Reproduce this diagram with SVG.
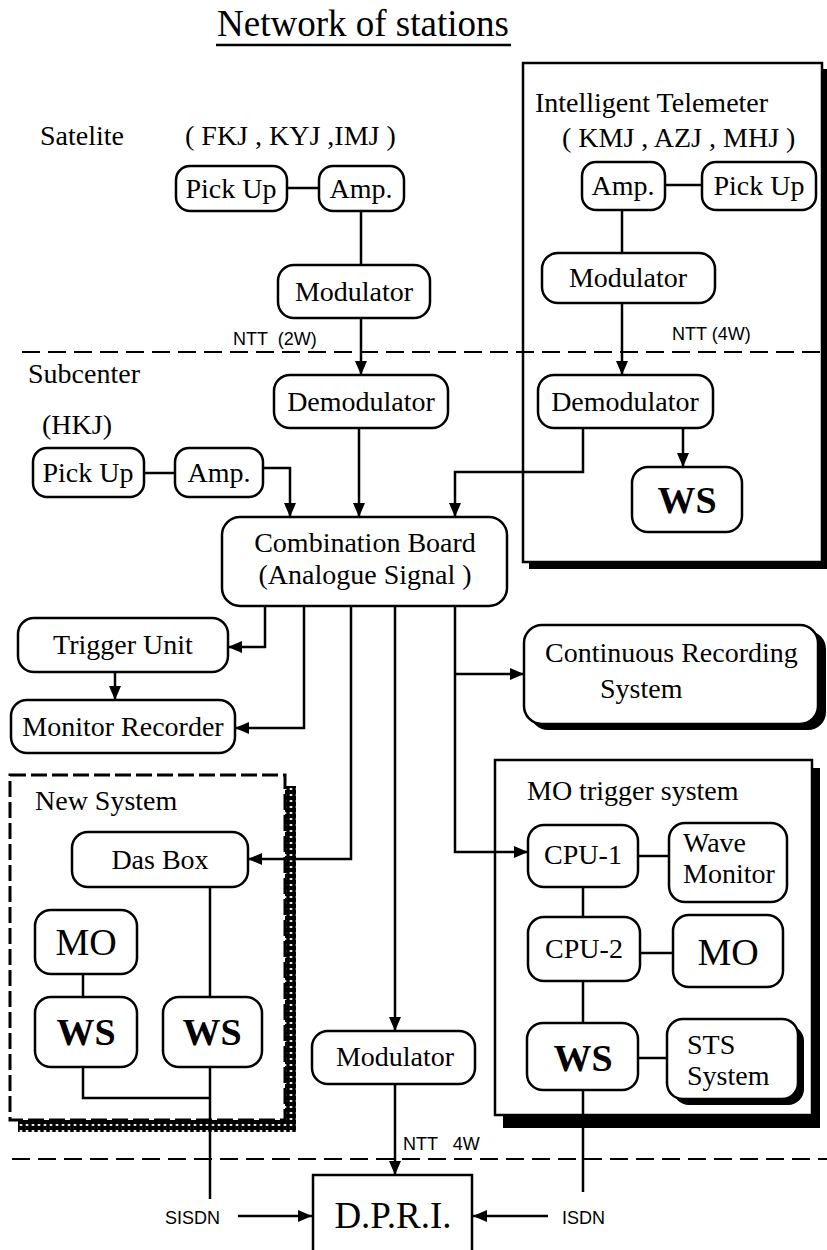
<svg xmlns="http://www.w3.org/2000/svg" width="827" height="1250" viewBox="0 0 827 1250">
<style>
.n{fill:#fff;stroke:#000;stroke-width:2.5}
.t{font-family:"Liberation Serif","Times New Roman",serif;font-size:28px;fill:#000;text-anchor:middle}
.l{font-family:"Liberation Serif","Times New Roman",serif;font-size:28px;fill:#000}
.b{font-family:"Liberation Serif","Times New Roman",serif;font-size:38px;fill:#000;text-anchor:middle}
.s{font-family:"Liberation Sans",Arial,sans-serif;font-size:18px;fill:#000}
.c{fill:none;stroke:#000;stroke-width:2.5}
.a{fill:none;stroke:#000;stroke-width:2.5;marker-end:url(#ah)}
.d{fill:none;stroke:#000;stroke-width:2;stroke-dasharray:18 8}
</style>
<defs>
<marker id="ah" markerWidth="14" markerHeight="12" refX="14" refY="6" orient="auto" markerUnits="userSpaceOnUse"><path d="M0,0 L14,6 L0,12 z" fill="#000"/></marker>
<pattern id="chain" width="6" height="6" patternUnits="userSpaceOnUse"><rect width="6" height="6" fill="#000"/><ellipse cx="3" cy="3" rx="1.6" ry="1.1" fill="#fff"/></pattern>
</defs>

<g id="title">
<text x="363" y="36" font-family="Liberation Serif, Times New Roman, serif" font-size="37" text-anchor="middle">Network of stations</text>
<line x1="216" y1="45" x2="511" y2="45" stroke="#000" stroke-width="2.5"/>
</g>

<g id="intelligent-telemeter">
<rect x="529" y="69" width="299" height="500" fill="#000"/>
<rect class="n" x="523" y="63" width="299" height="499"/>
<text class="l" x="535" y="112">Intelligent Telemeter</text>
<text class="l" x="562" y="147">( KMJ , AZJ , MHJ )</text>
</g>

<g id="zone-lines">
<line class="d" x1="22" y1="352" x2="827" y2="352"/>
<line class="d" x1="12" y1="1159" x2="827" y2="1159"/>
</g>

<g id="labels">
<text class="l" x="40" y="145">Satelite</text>
<text class="l" x="185" y="145">( FKJ , KYJ ,IMJ )</text>
<text class="l" x="28" y="383">Subcenter</text>
<text class="l" x="42" y="434">(HKJ)</text>
<text class="s" x="233" y="345" xml:space="preserve">NTT  (2W)</text>
<text class="s" x="672" y="340">NTT (4W)</text>
<text class="s" x="403" y="1150" xml:space="preserve">NTT   4W</text>
<text class="s" x="165" y="1224">SISDN</text>
<text class="s" x="562" y="1224">ISDN</text>
</g>

<g id="sat-pickup"><rect class="n" x="176" y="166" width="111" height="45" rx="14"/><text class="t" x="231" y="198">Pick Up</text></g>
<g id="sat-amp"><rect class="n" x="319" y="166" width="85" height="45" rx="14"/><text class="t" x="361" y="198">Amp.</text></g>
<g id="sat-modulator"><rect class="n" x="278" y="265" width="152" height="53" rx="16"/><text class="t" x="354" y="301">Modulator</text></g>
<g id="sub-demodulator"><rect class="n" x="274" y="375" width="174" height="53" rx="16"/><text class="t" x="361" y="411">Demodulator</text></g>
<g id="hkj-pickup"><rect class="n" x="33" y="448" width="111" height="49" rx="14"/><text class="t" x="88" y="482">Pick Up</text></g>
<g id="hkj-amp"><rect class="n" x="175" y="448" width="88" height="49" rx="14"/><text class="t" x="219" y="482">Amp.</text></g>
<g id="combination-board"><rect class="n" x="222" y="517" width="285" height="89" rx="18"/><text class="t" x="365" y="552">Combination Board</text><text class="t" x="365" y="584">(Analogue Signal )</text></g>

<g id="tel-amp"><rect class="n" x="582" y="162" width="83" height="48" rx="14"/><text class="t" x="623" y="195">Amp.</text></g>
<g id="tel-pickup"><rect class="n" x="702" y="162" width="114" height="48" rx="14"/><text class="t" x="759" y="195">Pick Up</text></g>
<g id="tel-modulator"><rect class="n" x="542" y="253" width="173" height="50" rx="16"/><text class="t" x="628" y="287">Modulator</text></g>
<g id="tel-demodulator"><rect class="n" x="538" y="375" width="175" height="53" rx="16"/><text class="t" x="625" y="411">Demodulator</text></g>
<g id="tel-ws"><rect class="n" x="632" y="467" width="110" height="65" rx="16"/><text class="b" x="687" y="513" font-weight="bold">WS</text></g>

<g id="trigger-unit"><rect class="n" x="18" y="618" width="210" height="54" rx="16"/><text class="t" x="123" y="654">Trigger Unit</text></g>
<g id="monitor-recorder"><rect class="n" x="11" y="700" width="224" height="53" rx="16"/><text class="t" x="123" y="736">Monitor Recorder</text></g>

<g id="continuous-recording">
<rect x="530" y="631" width="296" height="99" rx="18" fill="#000"/>
<rect class="n" x="524" y="625" width="294" height="99" rx="18"/>
<text class="l" x="545" y="662">Continuous Recording</text>
<text class="l" x="600" y="698">System</text>
</g>

<g id="new-system">
<rect x="285" y="786" width="11" height="346" fill="url(#chain)"/>
<rect x="18" y="1120" width="278" height="12" fill="url(#chain)"/>
<rect x="10" y="775" width="275" height="345" fill="#fff" stroke="#000" stroke-width="3" stroke-dasharray="16 5"/>
<text class="l" x="35" y="810">New System</text>
</g>
<g id="das-box"><rect class="n" x="72" y="832" width="176" height="55" rx="16"/><text class="t" x="160" y="869">Das Box</text></g>
<g id="ns-mo"><rect class="n" x="35" y="910" width="102" height="64" rx="16"/><text class="b" x="86" y="955">MO</text></g>
<g id="ns-ws1"><rect class="n" x="35" y="997" width="102" height="70" rx="16"/><text class="b" x="86" y="1045" font-weight="bold">WS</text></g>
<g id="ns-ws2"><rect class="n" x="163" y="997" width="99" height="70" rx="16"/><text class="b" x="212" y="1045" font-weight="bold">WS</text></g>

<g id="bottom-modulator"><rect class="n" x="312" y="1031" width="163" height="53" rx="16"/><text class="t" x="395" y="1066">Modulator</text></g>
<g id="dpri"><path class="c" d="M313,1252 V1175 H472 V1252"/><text x="393" y="1228" font-family="Liberation Serif, Times New Roman, serif" font-size="37" text-anchor="middle">D.P.R.I.</text></g>

<g id="mo-trigger-system">
<rect x="503" y="768" width="317" height="360" fill="#000"/>
<rect class="n" x="495" y="760" width="317" height="355"/>
<text class="l" x="527" y="800">MO trigger system</text>
</g>
<g id="cpu1"><rect class="n" x="528" y="825" width="110" height="62" rx="16"/><text class="t" x="583" y="864" font-size="26">CPU-1</text></g>
<g id="wave-monitor"><rect class="n" x="669" y="823" width="118" height="79" rx="16"/><text class="l" x="683" y="852" font-size="26">Wave</text><text class="l" x="683" y="883" font-size="26">Monitor</text></g>
<g id="cpu2"><rect class="n" x="528" y="917" width="112" height="64" rx="16"/><text class="t" x="584" y="958" font-size="26">CPU-2</text></g>
<g id="mt-mo"><rect class="n" x="673" y="915" width="110" height="72" rx="16"/><text class="b" x="728" y="965">MO</text></g>
<g id="mt-ws"><rect class="n" x="527" y="1023" width="111" height="67" rx="16"/><text class="b" x="583" y="1071" font-weight="bold">WS</text></g>
<g id="sts-system">
<rect x="673" y="1025" width="131" height="80" rx="16" fill="#000"/>
<rect class="n" x="667" y="1019" width="131" height="80" rx="16"/>
<text class="l" x="687" y="1054" font-size="26">STS</text>
<text class="l" x="687" y="1085" font-size="26">System</text>
</g>

<g id="connectors">
<line class="c" x1="287" y1="188" x2="319" y2="188"/>
<line class="c" x1="361" y1="211" x2="361" y2="265"/>
<line class="a" x1="361" y1="318" x2="361" y2="375"/>
<line class="c" x1="144" y1="473" x2="175" y2="473"/>
<path class="a" d="M263,468 H290 V517"/>
<line class="a" x1="359" y1="428" x2="359" y2="517"/>
<path class="a" d="M583,428 V472 H455 V517"/>
<line class="c" x1="665" y1="185" x2="702" y2="185"/>
<line class="c" x1="622" y1="210" x2="622" y2="253"/>
<line class="a" x1="622" y1="303" x2="622" y2="375"/>
<line class="a" x1="683" y1="428" x2="683" y2="467"/>
<path class="a" d="M265,606 V647 H228"/>
<line class="a" x1="115" y1="672" x2="115" y2="700"/>
<path class="a" d="M304,606 V728 H235"/>
<path class="a" d="M351,606 V859 H248"/>
<line class="a" x1="395" y1="606" x2="395" y2="1031"/>
<path class="a" d="M455,606 V852 H528"/>
<line class="a" x1="455" y1="674" x2="524" y2="674"/>
<line class="c" x1="83" y1="974" x2="83" y2="997"/>
<line class="c" x1="210" y1="887" x2="210" y2="997"/>
<path class="c" d="M83,1067 V1098 H210"/>
<line class="c" x1="210" y1="1067" x2="210" y2="1199"/>
<line class="a" x1="238" y1="1216" x2="312" y2="1216"/>
<line class="a" x1="395" y1="1084" x2="395" y2="1175"/>
<line class="a" x1="548" y1="1216" x2="473" y2="1216"/>
<line class="c" x1="638" y1="856" x2="669" y2="856"/>
<line class="c" x1="583" y1="887" x2="583" y2="917"/>
<line class="c" x1="640" y1="953" x2="673" y2="953"/>
<line class="c" x1="583" y1="981" x2="583" y2="1023"/>
<line class="c" x1="638" y1="1058" x2="667" y2="1058"/>
<line class="c" x1="583" y1="1090" x2="583" y2="1192"/>
</g>
</svg>
